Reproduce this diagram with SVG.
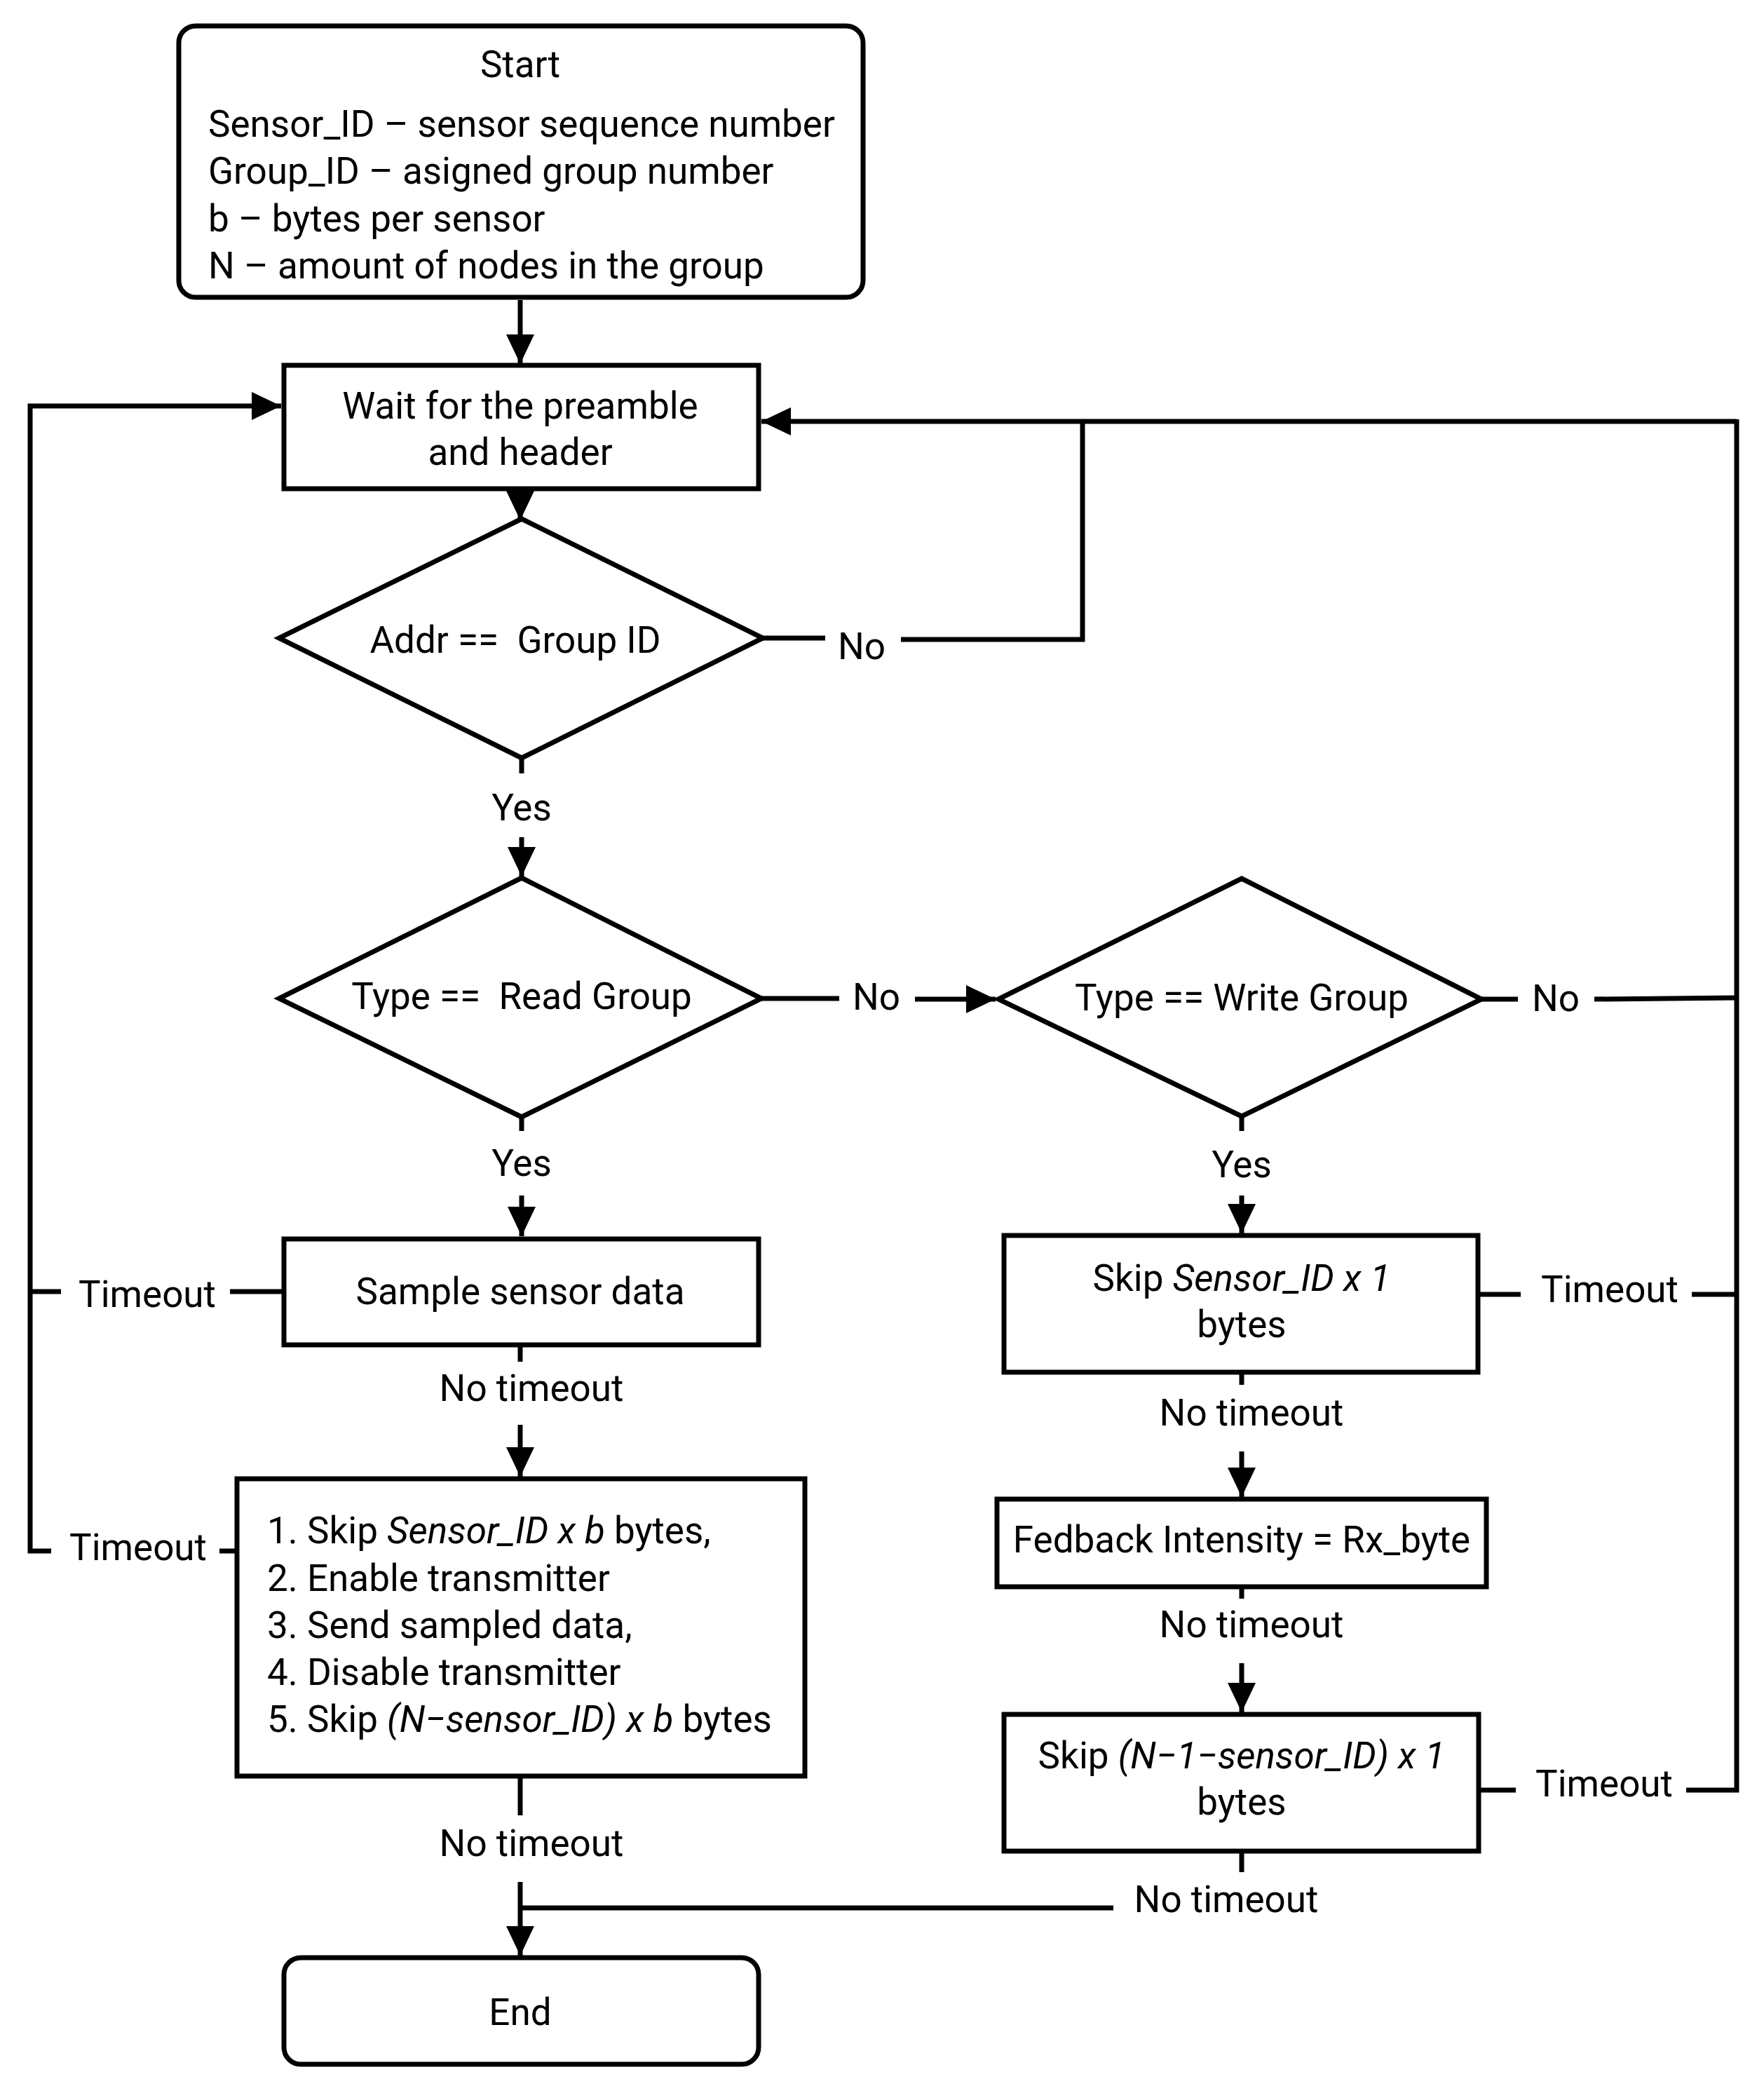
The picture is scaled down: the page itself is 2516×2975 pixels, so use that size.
<svg xmlns="http://www.w3.org/2000/svg" width="2516" height="2975" viewBox="0 0 2516 2975">
<defs>
<style>
.s{fill:none;stroke:#000;stroke-width:7;stroke-linejoin:miter}
.n{fill:#fff;stroke:#000;stroke-width:7}
.t{font-family:Roboto,"Liberation Sans",sans-serif;font-size:53px;fill:#000;white-space:pre}
.c{text-anchor:middle}
.i{font-style:italic}
</style>
<marker id="ah" markerUnits="userSpaceOnUse" markerWidth="44" markerHeight="40" refX="42" refY="20" orient="auto">
<path d="M0,0 L42,20 L0,40 Z" fill="#000"/>
</marker>
</defs>
<rect width="2516" height="2975" fill="#fff"/>
<g id="connectors">
<line class="s" x1="742" y1="428" x2="742" y2="519" marker-end="url(#ah)"/>
<line class="s" x1="742" y1="697" x2="742" y2="742" marker-end="url(#ah)"/>
<line class="s" x1="744" y1="1081" x2="744" y2="1103"/>
<line class="s" x1="744" y1="1194" x2="744" y2="1250" marker-end="url(#ah)"/>
<line class="s" x1="744" y1="1593" x2="744" y2="1613"/>
<line class="s" x1="744" y1="1705" x2="744" y2="1763" marker-end="url(#ah)"/>
<line class="s" x1="742" y1="1918" x2="742" y2="1942"/>
<line class="s" x1="742" y1="2032" x2="742" y2="2106" marker-end="url(#ah)"/>
<line class="s" x1="742" y1="2533" x2="742" y2="2589"/>
<line class="s" x1="742" y1="2684" x2="742" y2="2789" marker-end="url(#ah)"/>
<polyline class="s" points="1588,2721 742,2721"/>
<line class="s" x1="1771" y1="1592" x2="1771" y2="1613"/>
<line class="s" x1="1771" y1="1705" x2="1771" y2="1759" marker-end="url(#ah)"/>
<line class="s" x1="1771" y1="1957" x2="1771" y2="1975"/>
<line class="s" x1="1771" y1="2070" x2="1771" y2="2135" marker-end="url(#ah)"/>
<line class="s" x1="1771" y1="2263" x2="1771" y2="2280"/>
<line class="s" x1="1771" y1="2372" x2="1771" y2="2442" marker-end="url(#ah)"/>
<line class="s" x1="1771" y1="2640" x2="1771" y2="2670"/>
<line class="s" x1="1086" y1="1424" x2="1197" y2="1424"/>
<line class="s" x1="1305" y1="1425" x2="1420" y2="1425" marker-end="url(#ah)"/>
<line class="s" x1="1088" y1="910" x2="1177" y2="910"/>
<polyline class="s" points="1285,912 1544,912 1544,601"/>
<polyline class="s" points="2477,601 1086,601" marker-end="url(#ah)"/>
<polyline class="s" points="2113,1425 2165,1425"/>
<polyline class="s" points="2274,1425 2477,1423"/>
<polyline class="s" points="2477,598 2477,2553 2405,2553"/>
<line class="s" x1="2109" y1="2553" x2="2162" y2="2553"/>
<line class="s" x1="2108" y1="1846" x2="2169" y2="1846"/>
<line class="s" x1="2413" y1="1846" x2="2477" y2="1846"/>
<polyline class="s" points="73,2212 43,2212 43,579 401,579" marker-end="url(#ah)"/>
<line class="s" x1="43" y1="1842" x2="87" y2="1842"/>
<line class="s" x1="328" y1="1842" x2="405" y2="1842"/>
<line class="s" x1="313" y1="2212" x2="338" y2="2212"/>
</g>
<g id="start">
<rect class="n" x="255" y="37" width="976" height="387" rx="24"/>
<text class="t c" x="742" y="110">Start</text>
<text class="t" x="297" y="195">Sensor_ID – sensor sequence number</text>
<text class="t" x="297" y="262">Group_ID – asigned group number</text>
<text class="t" x="297" y="330">b – bytes per sensor</text>
<text class="t" x="297" y="397">N – amount of nodes in the group</text>
</g>
<g id="wait">
<rect class="n" x="405" y="521" width="677" height="176"/>
<text class="t c" x="742" y="597">Wait for the preamble</text>
<text class="t c" x="742" y="663">and header</text>
</g>
<g id="addr">
<polygon class="n" points="744,740 1088,910 744,1081 398,910"/>
<text class="t c" x="735" y="931">Addr ==  Group ID</text>
</g>
<g id="readgroup">
<polygon class="n" points="744,1252 1086,1424 744,1593 398,1424"/>
<text class="t c" x="744" y="1439">Type ==  Read Group</text>
</g>
<g id="writegroup">
<polygon class="n" points="1771,1253 2113,1425 1771,1592 1424,1425"/>
<text class="t c" x="1771" y="1441">Type == Write Group</text>
</g>
<g id="sample">
<rect class="n" x="405" y="1767" width="677" height="151"/>
<text class="t c" x="742" y="1860">Sample sensor data</text>
</g>
<g id="steps">
<rect class="n" x="338" y="2109" width="810" height="424"/>
<text class="t" x="381" y="2201">1. Skip <tspan class="i">Sensor_ID x b</tspan> bytes,</text>
<text class="t" x="381" y="2269">2. Enable transmitter</text>
<text class="t" x="381" y="2336">3. Send sampled data,</text>
<text class="t" x="381" y="2403">4. Disable transmitter</text>
<text class="t" x="381" y="2470">5. Skip <tspan class="i">(N−sensor_ID) x b</tspan> bytes</text>
</g>
<g id="end">
<rect class="n" x="405" y="2792" width="677" height="152" rx="24"/>
<text class="t c" x="742" y="2888">End</text>
</g>
<g id="skip1">
<rect class="n" x="1432" y="1762" width="676" height="195"/>
<text class="t c" x="1771" y="1841">Skip <tspan class="i">Sensor_ID x 1</tspan></text>
<text class="t c" x="1771" y="1907">bytes</text>
</g>
<g id="feedback">
<rect class="n" x="1422" y="2138" width="698" height="125"/>
<text class="t c" x="1771" y="2214">Fedback Intensity = Rx_byte</text>
</g>
<g id="skip2">
<rect class="n" x="1432" y="2445" width="677" height="195"/>
<text class="t c" x="1771" y="2522">Skip <tspan class="i">(N−1−sensor_ID) x 1</tspan></text>
<text class="t c" x="1771" y="2588">bytes</text>
</g>
<g id="labels">
<text class="t c" x="744" y="1170">Yes</text>
<text class="t c" x="744" y="1677">Yes</text>
<text class="t c" x="1771" y="1679">Yes</text>
<text class="t c" x="1229" y="940">No</text>
<text class="t c" x="1250" y="1440">No</text>
<text class="t c" x="2219" y="1442">No</text>
<text class="t c" x="210" y="1864">Timeout</text>
<text class="t c" x="197" y="2225">Timeout</text>
<text class="t c" x="2296" y="1857">Timeout</text>
<text class="t c" x="2288" y="2562">Timeout</text>
<text class="t c" x="758" y="1998">No timeout</text>
<text class="t c" x="758" y="2647">No timeout</text>
<text class="t c" x="1785" y="2033">No timeout</text>
<text class="t c" x="1785" y="2335">No timeout</text>
<text class="t c" x="1749" y="2727">No timeout</text>
</g>
</svg>
